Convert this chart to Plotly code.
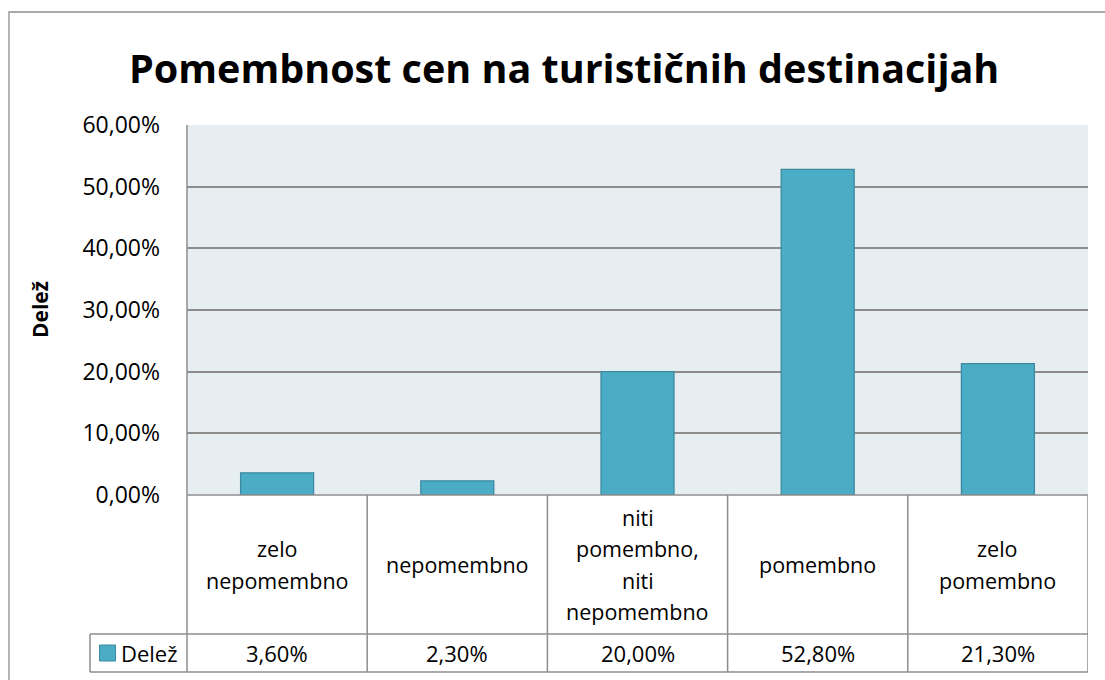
import plotly.graph_objects as go

categories = ["zelo nepomembno", "nepomembno", "niti pomembno, niti nepomembno", "pomembno", "zelo pomembno"]
category_lines = [["zelo", "nepomembno"], ["nepomembno"], ["niti", "pomembno,", "niti", "nepomembno"], ["pomembno"], ["zelo", "pomembno"]]
values = [0.036, 0.023, 0.200, 0.528, 0.213]
series_name = "Delež"
title = "Pomembnost cen na turističnih destinacijah"
y_ticks = [0.0, 0.1, 0.2, 0.3, 0.4, 0.5, 0.6]

W, H = 1105, 680
FONT = "Open Sans"
BAR = "#4BACC6"
BAR_LINE = "#3C8A9F"
GRID = "#8C8C8C"
BORDER = "#8E8E8E"

def px(x):
    return x / W

def py(y):
    return 1 - y / H

plot_left, plot_right, plot_top, plot_bottom = 187, 1088, 125, 495
row1_bottom, row2_bottom = 634, 672
legend_left = 90

def fmt(v):
    return f"{v*100:.2f}%".replace(".", ",")

fig = go.Figure()
fig.add_trace(go.Bar(
    x=list(range(len(categories))), y=values, name=series_name,
    marker=dict(color=BAR, line=dict(color=BAR_LINE, width=1.3)),
    width=0.405, hoverinfo="skip",
))

shapes = []
annotations = []
# outer border
shapes.append(dict(type="rect", xref="paper", yref="paper", x0=px(9), x1=px(1110), y0=py(700), y1=py(12),
                   line=dict(color=BORDER, width=1.3), fillcolor="rgba(0,0,0,0)", layer="below"))
# table horizontal lines
for yy in [plot_bottom, row1_bottom, row2_bottom]:
    x0 = legend_left if yy != plot_bottom else plot_left
    shapes.append(dict(type="line", xref="paper", yref="paper", x0=px(x0), x1=px(plot_right),
                       y0=py(yy), y1=py(yy), line=dict(color=BORDER, width=1.5)))
shapes.append(dict(type="line", xref="paper", yref="paper", x0=px(legend_left), x1=px(legend_left),
                   y0=py(row1_bottom), y1=py(row2_bottom), line=dict(color=BORDER, width=1.5)))
shapes.append(dict(type="line", xref="paper", yref="paper", x0=px(plot_left), x1=px(plot_left),
                   y0=py(plot_top), y1=py(row2_bottom), line=dict(color=BORDER, width=1.5)))
for i in range(1, len(categories) + 1):
    shapes.append(dict(type="line", xref="x", yref="paper", x0=i - 0.5, x1=i - 0.5,
                       y0=py(plot_bottom), y1=py(row2_bottom), line=dict(color=BORDER, width=1.5)))

# category labels
line_h = 31.5
mid_y = (plot_bottom + row1_bottom) / 2
for i, lines in enumerate(category_lines):
    n = len(lines)
    for j, t in enumerate(lines):
        yy = mid_y + (j - (n - 1) / 2) * line_h
        annotations.append(dict(x=i, y=py(yy), xref="x", yref="paper", text=t, showarrow=False,
                                font=dict(family=FONT, size=21.5, color="#000"), xanchor="center", yanchor="middle"))
# values row
for i, v in enumerate(values):
    annotations.append(dict(x=i, y=py((row1_bottom + row2_bottom) / 2), xref="x", yref="paper", text=fmt(v),
                            showarrow=False, font=dict(family=FONT, size=22, color="#000"),
                            xanchor="center", yanchor="middle"))
# legend key
shapes.append(dict(type="rect", xref="paper", yref="paper", x0=px(99.5), x1=px(115.5), y0=py(661), y1=py(645),
                   fillcolor=BAR, line=dict(color=BAR_LINE, width=1)))
annotations.append(dict(x=px(119), y=py(653), xref="paper", yref="paper", text=series_name, showarrow=False,
                        font=dict(family=FONT, size=22, color="#000"), xanchor="left", yanchor="middle"))
# y axis title
annotations.append(dict(x=px(40), y=py(310), xref="paper", yref="paper", text="<b>Delež</b>", showarrow=False,
                        textangle=-90, font=dict(family=FONT, size=21, color="#000"),
                        xanchor="center", yanchor="middle"))
# title
annotations.append(dict(x=px(564), y=py(68), xref="paper", yref="paper", text=f"<b>{title}</b>", showarrow=False,
                        font=dict(family=FONT, size=39.5, color="#000"), xanchor="center", yanchor="middle"))

fig.update_layout(
    width=W, height=H, margin=dict(l=0, r=0, t=0, b=0, autoexpand=False),
    paper_bgcolor="white", plot_bgcolor="#E7EEF2",
    separators=",.", showlegend=False,
    shapes=shapes, annotations=annotations,
    xaxis=dict(domain=[px(plot_left), px(plot_right)], range=[-0.5, len(categories) - 0.5],
               showticklabels=False, showgrid=False, zeroline=False, ticks=""),
    yaxis=dict(domain=[py(plot_bottom), py(plot_top)], range=[0, 0.6], tickvals=y_ticks,
               tickformat=".2%", showgrid=True, gridcolor=GRID, gridwidth=1.5, zeroline=False,
               ticks="", ticklabelstandoff=26, tickfont=dict(family=FONT, size=23, color="#000")),
)

fig.write_html("out.html", config={"displayModeBar": False}, post_script="document.body.style.margin='0';")
